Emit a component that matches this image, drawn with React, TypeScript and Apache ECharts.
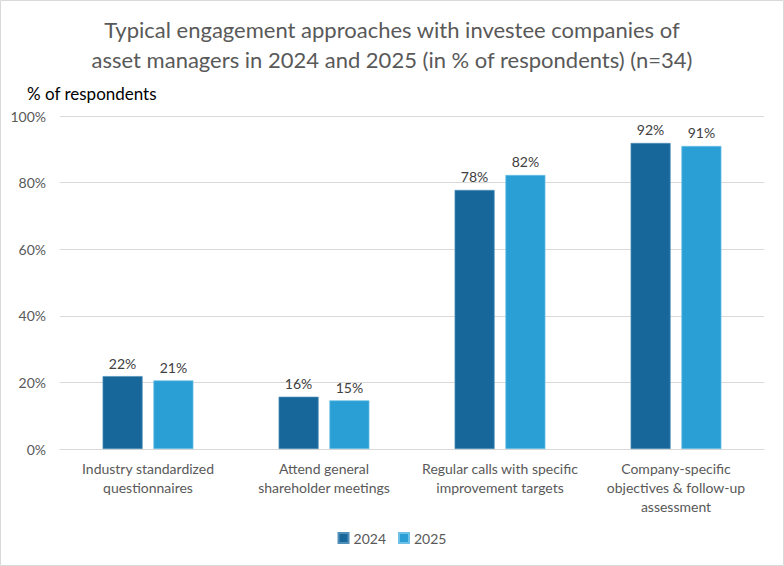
import React, { useEffect, useRef } from "react";
import * as echarts from "echarts";

const categories = [
  "Industry standardized\nquestionnaires",
  "Attend general\nshareholder meetings",
  "Regular calls with specific\nimprovement targets",
  "Company-specific\nobjectives & follow-up\nassessment",
];
const values2024 = [21.9, 15.7, 77.8, 91.9];
const values2025 = [20.6, 14.6, 82.3, 91.0];
const yTicks = [0, 20, 40, 60, 80, 100];

const FONT = "Lato";

export default function App() {
  const ref = useRef<HTMLDivElement>(null);
  useEffect(() => {
    document.body.style.margin = "0";
    const chart = echarts.init(ref.current!, null, { renderer: "svg" });
    const label = {
      show: true,
      position: "top",
      distance: 6,
      color: "#404040",
      fontSize: 14,
      fontFamily: FONT,
      formatter: (p: any) => Math.round(p.value) + "%",
    };
    chart.setOption({
      animation: false,
      backgroundColor: "#ffffff",
      title: {
        text: "Typical engagement approaches with investee companies of\nasset managers in 2024 and 2025 (in % of respondents) (n=34)",
        left: "center",
        top: 9,
        textStyle: {
          color: "#595959",
          fontSize: 22,
          fontWeight: "normal",
          fontFamily: FONT,
          lineHeight: 30,
        },
      },
      graphic: [
        {
          type: "rect",
          shape: { x: 0.5, y: 0.5, width: 783, height: 565 },
          style: { fill: "none", stroke: "#d9d9d9", lineWidth: 1 },
          silent: true,
        },
        {
          type: "text",
          left: 27,
          top: 85,
          style: {
            text: "% of respondents",
            fill: "#000000",
            fontSize: 17,
            fontFamily: FONT,
          },
        },
      ],
      legend: {
        bottom: 16,
        left: "center",
        itemWidth: 10,
        itemHeight: 10,
        itemGap: 12,
        icon: "rect",
        textStyle: { color: "#595959", fontSize: 14, fontFamily: FONT },
        data: ["2024", "2025"],
      },
      grid: { left: 60, right: 20, top: 116, bottom: 117, containLabel: false },
      xAxis: {
        type: "category",
        data: categories,
        axisTick: { show: false },
        axisLine: { lineStyle: { color: "#d9d9d9", width: 1 } },
        axisLabel: {
          color: "#595959",
          fontSize: 14,
          fontFamily: FONT,
          lineHeight: 19,
          margin: 10,
          interval: 0,
        },
      },
      yAxis: {
        type: "value",
        min: 0,
        max: 100,
        interval: 20,
        axisLine: { show: false },
        axisTick: { show: false },
        splitLine: { lineStyle: { color: "#d9d9d9", width: 1 } },
        axisLabel: {
          color: "#595959",
          fontSize: 14,
          fontFamily: FONT,
          margin: 14,
          formatter: (v: number) => (yTicks.includes(v) ? v + "%" : ""),
        },
      },
      series: [
        {
          name: "2024",
          type: "bar",
          data: values2024,
          barWidth: 40,
          barGap: "27%",
          itemStyle: { color: "#17679A", borderColor: "#4f8fb8", borderWidth: 0.7 },
          label,
        },
        {
          name: "2025",
          type: "bar",
          data: values2025,
          barWidth: 40,
          itemStyle: { color: "#2A9FD6", borderColor: "#6ec0e6", borderWidth: 0.7 },
          label,
        },
      ],
    });
    return () => chart.dispose();
  }, []);
  return <div ref={ref} style={{ width: 784, height: 566 }} />;
}
